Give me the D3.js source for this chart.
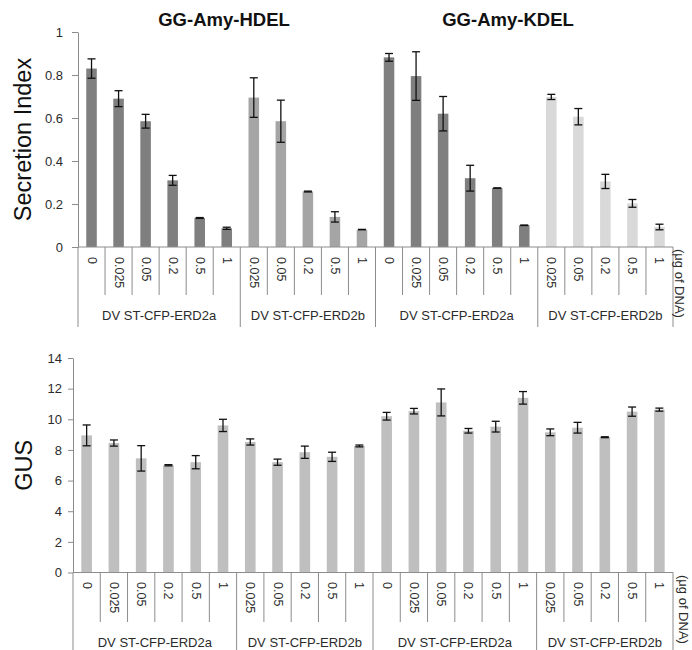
<!DOCTYPE html>
<html>
<head>
<meta charset="utf-8">
<script src="https://cdn.jsdelivr.net/npm/d3@7"></script>
<style>
  body { margin: 0; background: #fff; }
  svg text { font-family: "Liberation Sans", Arial, sans-serif; }
</style>
</head>
<body>
<div id="container"></div>
<script>
/* DATA */
const titles = ["GG-Amy-HDEL", "GG-Amy-KDEL"]
const groupNames = ["DV ST-CFP-ERD2a", "DV ST-CFP-ERD2b", "DV ST-CFP-ERD2a", "DV ST-CFP-ERD2b"]
const groupDoses = [
    ["0", "0.025", "0.05", "0.2", "0.5", "1"],
    ["0.025", "0.05", "0.2", "0.5", "1"],
    ["0", "0.025", "0.05", "0.2", "0.5", "1"],
    ["0.025", "0.05", "0.2", "0.5", "1"]
]
const groupColors = ["#7f7f7f", "#a5a5a5", "#7f7f7f", "#d9d9d9"]
const unitLabel = "(μg of DNA)"

const secretion = [0.83, 0.69, 0.585, 0.31, 0.135, 0.087,
                   0.695, 0.585, 0.258, 0.14, 0.081,
                   0.882, 0.795, 0.62, 0.32, 0.274, 0.101,
                   0.698, 0.606, 0.305, 0.203, 0.093]
const secretionErr = [0.045, 0.037, 0.032, 0.023, 0.002, 0.005,
                      0.092, 0.098, 0.002, 0.024, 0.001,
                      0.018, 0.113, 0.08, 0.06, 0.001, 0.001,
                      0.012, 0.038, 0.033, 0.018, 0.013]
const gus = [8.95, 8.45, 7.45, 7.0, 7.2, 9.6,
             8.52, 7.2, 7.85, 7.55, 8.26,
             10.2, 10.53, 11.1, 9.25, 9.52, 11.4,
             9.15, 9.45, 8.83, 10.5, 10.63]
const gusErr = [0.68, 0.2, 0.83, 0.04, 0.43, 0.4,
                0.2, 0.2, 0.4, 0.3, 0.06,
                0.25, 0.18, 0.88, 0.15, 0.35, 0.41,
                0.22, 0.35, 0.03, 0.3, 0.1]
const secretionTicks = [0, 0.2, 0.4, 0.6, 0.8, 1]
const gusTicks = [0, 2, 4, 6, 8, 10, 12, 14]

/* flatten categories */
const cats = []
groupDoses.forEach((doses, g) => {
    doses.forEach(d => cats.push({ group: g, dose: d }))
})
const groupStarts = []
let acc = 0
groupDoses.forEach(d => { groupStarts.push(acc); acc += d.length })
groupStarts.push(acc)

const textColor = "#2b2b2b"
const lineColor = "#8c8c8c"

const svg = d3.select("#container")
    .append("svg")
    .attr("width", 692)
    .attr("height", 650)

function BarPanel(cfg) {
    const x = d3.scaleBand()
        .domain(d3.range(cats.length))
        .range([cfg.left, cfg.right])
        .padding(0)
    const y = d3.scaleLinear()
        .domain([0, cfg.max])
        .range([cfg.bottom, cfg.top])
    const bw = x.bandwidth()
    const barW = bw * 0.39

    const g = svg.append("g")

    /* BARS */
    g.selectAll(".bar")
        .data(cfg.values)
        .join("rect")
        .attr("class", "bar")
        .attr("x", (d, i) => x(i) + (bw - barW) / 2)
        .attr("width", barW)
        .attr("y", d => y(d))
        .attr("height", d => y(0) - y(d))
        .attr("fill", (d, i) => cfg.color(i))

    /* ERROR BARS */
    const err = g.selectAll(".err")
        .data(cfg.values.map((v, i) => ({ v, e: cfg.errors[i], i })))
        .join("g")
        .attr("class", "err")
        .attr("stroke", "#111")
        .attr("stroke-width", 1.3)
    err.append("line")
        .attr("x1", d => x(d.i) + bw / 2).attr("x2", d => x(d.i) + bw / 2)
        .attr("y1", d => y(d.v + d.e)).attr("y2", d => y(d.v - d.e))
    err.append("line")
        .attr("x1", d => x(d.i) + bw / 2 - 4).attr("x2", d => x(d.i) + bw / 2 + 4)
        .attr("y1", d => y(d.v + d.e)).attr("y2", d => y(d.v + d.e))
    err.append("line")
        .attr("x1", d => x(d.i) + bw / 2 - 4).attr("x2", d => x(d.i) + bw / 2 + 4)
        .attr("y1", d => y(d.v - d.e)).attr("y2", d => y(d.v - d.e))

    /* Y AXIS */
    const yAxis = g.append("g")
        .attr("transform", `translate(${cfg.left}, 0)`)
        .call(d3.axisLeft(y)
            .tickValues(cfg.ticks)
            .tickSize(cfg.tickSize)
            .tickSizeOuter(0)
            .tickPadding(cfg.tickPadding)
            .tickFormat(d3.format("~g")))
    yAxis.select(".domain").attr("stroke", lineColor)
    yAxis.selectAll(".tick line").attr("stroke", lineColor)
    yAxis.selectAll(".tick text")
        .attr("fill", textColor)
        .style("font-size", "13px")
        .style("font-family", "'Liberation Sans', Arial, sans-serif")

    /* Y TITLE */
    g.append("text")
        .attr("transform", `translate(${cfg.titleX}, ${(cfg.top + cfg.bottom) / 2}) rotate(-90)`)
        .attr("text-anchor", "middle")
        .attr("dominant-baseline", "central")
        .style("font-size", "23.5px")
        .attr("fill", "#111")
        .text(cfg.yTitle)

    /* CATEGORY AXIS */
    g.append("line")
        .attr("x1", cfg.left).attr("x2", cfg.right)
        .attr("y1", y(0)).attr("y2", y(0))
        .attr("stroke", lineColor)

    const bounds = d3.range(cats.length + 1)
    g.selectAll(".sep")
        .data(bounds)
        .join("line")
        .attr("class", "sep")
        .attr("x1", i => i < cats.length ? x(i) : cfg.right)
        .attr("x2", i => i < cats.length ? x(i) : cfg.right)
        .attr("y1", y(0))
        .attr("y2", i => groupStarts.includes(i) ? cfg.longEnd : cfg.shortEnd)
        .attr("stroke", lineColor)

    g.selectAll(".dose")
        .data(cats)
        .join("text")
        .attr("class", "dose")
        .attr("transform", (d, i) => `translate(${x(i) + bw / 2}, ${cfg.doseY}) rotate(90)`)
        .attr("dominant-baseline", "central")
        .style("font-size", "12.5px")
        .attr("fill", textColor)
        .text(d => d.dose)

    g.selectAll(".grp")
        .data(groupNames)
        .join("text")
        .attr("class", "grp")
        .attr("x", (d, i) => (x(groupStarts[i]) + (groupStarts[i + 1] < cats.length ? x(groupStarts[i + 1]) : cfg.right)) / 2)
        .attr("y", cfg.groupY)
        .attr("text-anchor", "middle")
        .attr("dominant-baseline", "central")
        .style("font-size", "13px")
        .attr("fill", textColor)
        .text(d => d)

    g.append("text")
        .attr("transform", `translate(${cfg.unitX}, ${cfg.unitY}) rotate(90)`)
        .attr("dominant-baseline", "central")
        .style("font-size", "13px")
        .attr("fill", textColor)
        .text(unitLabel)

    return { x, y }
}

BarPanel({
    left: 78, right: 673, top: 32, bottom: 247,
    max: 1, ticks: secretionTicks,
    values: secretion, errors: secretionErr,
    color: i => groupColors[cats[i].group],
    tickSize: 6, tickPadding: 9,
    yTitle: "Secretion Index", titleX: 23,
    doseY: 257, shortEnd: 295, longEnd: 327, groupY: 315,
    unitX: 679, unitY: 249
})

BarPanel({
    left: 73, right: 673, top: 358, bottom: 572.5,
    max: 14, ticks: gusTicks,
    values: gus, errors: gusErr,
    color: i => "#bfbfbf",
    tickSize: 5, tickPadding: 6,
    yTitle: "GUS", titleX: 24,
    doseY: 582, shortEnd: 622, longEnd: 650, groupY: 642,
    unitX: 683, unitY: 575
})

/* PANEL TITLES */
svg.selectAll(".title")
    .data(titles)
    .join("text")
    .attr("class", "title")
    .attr("x", (d, i) => [224, 508][i])
    .attr("y", 26)
    .attr("text-anchor", "middle")
    .style("font-size", "18.5px")
    .style("font-weight", "bold")
    .attr("fill", "#111")
    .text(d => d)
</script>
</body>
</html>
